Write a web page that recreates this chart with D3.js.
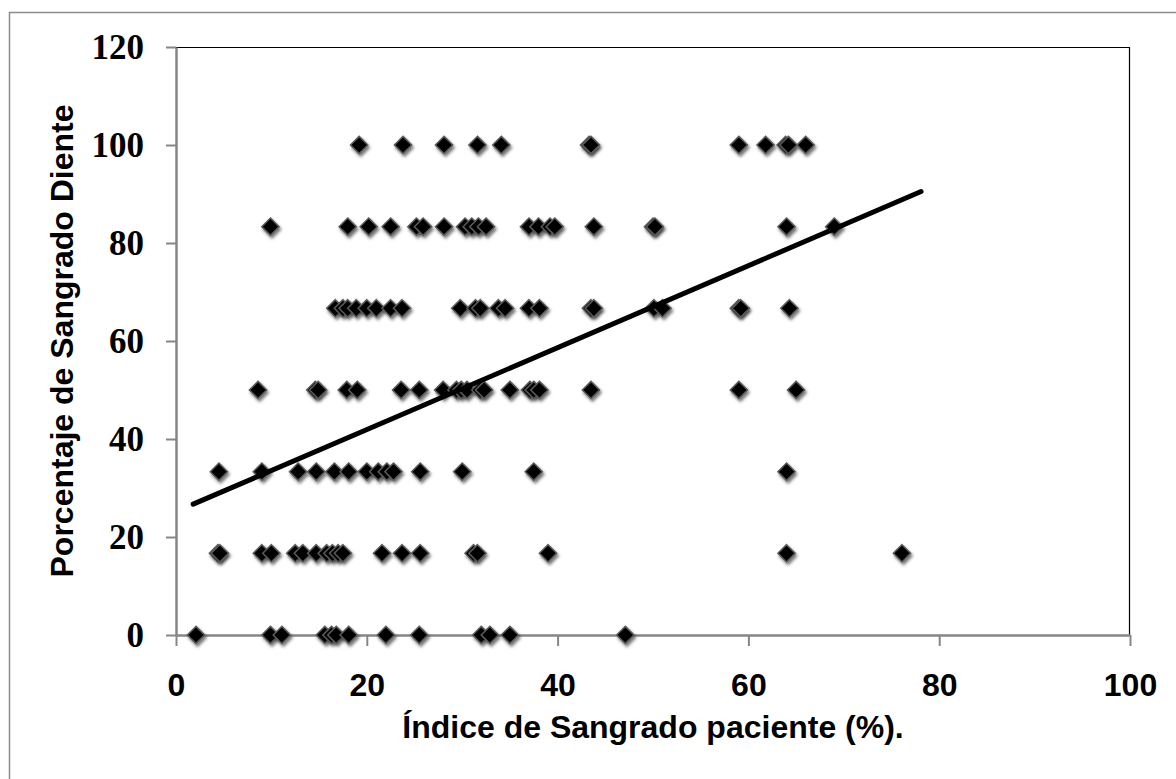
<!DOCTYPE html>
<html lang="es">
<head>
    <meta charset="UTF-8">
    <title>Índice de Sangrado</title>
    <script src="https://d3js.org/d3.v7.min.js"></script>
    <style>
        body {
            margin: 0;
            background-color: #fff;
        }

        .y-axis text {
            font-family: "Liberation Serif", "Times New Roman", serif;
            font-weight: bold;
            font-size: 35px;
            fill: #000;
        }

        .x-axis text {
            font-family: "Liberation Sans", Arial, sans-serif;
            font-weight: bold;
            font-size: 32px;
            fill: #000;
        }

        .axis-label {
            font-family: "Liberation Sans", Arial, sans-serif;
            font-weight: bold;
            font-size: 32px;
            fill: #000;
        }
    </style>
</head>
<body>
    <svg id="chart" width="1176" height="779"></svg>
    <script>
        // Porcentaje de sangrado por diente (niveles del eje Y)
        const yLevels = [0, 16.67, 33.33, 50, 66.67, 83.33, 100];

        // Índice de sangrado del paciente para cada nivel
        const xAt0 = [2.1, 9.9, 11.1, 15.6, 16.3, 16.8, 18.1, 22.0, 25.5, 32.0, 32.9, 35.0, 47.1];
        const xAt17 = [4.4, 4.6, 9.0, 10.0, 12.5, 13.3, 14.7, 15.8, 16.4, 17.0, 17.5, 21.6, 23.7, 25.6,
                       31.2, 31.6, 39.0, 64.0, 76.1];
        const xAt33 = [4.5, 9.0, 12.8, 14.7, 16.6, 18.1, 20.0, 21.2, 22.1, 22.8, 25.6, 30.0, 37.5, 64.0];
        const xAt50 = [8.6, 14.6, 14.9, 17.9, 19.0, 23.6, 25.5, 28.0, 29.4, 29.9, 30.5, 31.9, 32.3, 35.0,
                       37.1, 37.5, 38.1, 43.5, 59.0, 65.0];
        const xAt67 = [16.7, 17.5, 18.0, 18.9, 20.0, 21.0, 22.5, 23.7, 29.8, 31.4, 31.9, 33.8, 34.5, 37.0,
                       38.1, 43.5, 43.8, 50.1, 51.0, 59.0, 59.2, 64.3];
        const xAt83 = [9.9, 18.0, 20.2, 22.5, 25.2, 25.9, 28.1, 30.3, 31.0, 31.7, 32.5, 37.0, 38.0, 39.2,
                       39.7, 43.8, 50.0, 50.2, 64.0, 69.0];
        const xAt100 = [19.2, 23.8, 28.1, 31.6, 34.1, 43.3, 43.5, 59.0, 61.8, 63.9, 64.2, 66.0];

        // Línea de tendencia (extremos)
        const trendX = [1.8, 78.1];
        const trendY = [26.7, 90.5];

        const xTicks = [0, 20, 40, 60, 80, 100];
        const yTicks = [0, 20, 40, 60, 80, 100, 120];

        const xRows = [xAt0, xAt17, xAt33, xAt50, xAt67, xAt83, xAt100];
        const points = [];
        xRows.forEach((row, i) => row.forEach(x => points.push({ x: x, y: yLevels[i] })));

        // Plot area
        const margin = { top: 47, right: 46, bottom: 144, left: 176 },
              width = 1176 - margin.left - margin.right,
              height = 779 - margin.top - margin.bottom;

        const svg = d3.select("#chart");

        // Outer frame (only top and left edges are visible)
        svg.append("rect")
           .attr("x", 9.5)
           .attr("y", 12.5)
           .attr("width", 1200)
           .attr("height", 800)
           .attr("fill", "none")
           .attr("stroke", "#8c8c8c")
           .attr("stroke-width", 1.5);

        const defs = svg.append("defs");
        const shadow = defs.append("filter")
                           .attr("id", "shadow")
                           .attr("x", "-50%").attr("y", "-50%")
                           .attr("width", "200%").attr("height", "200%");
        shadow.append("feDropShadow")
              .attr("dx", 1.5)
              .attr("dy", 2.5)
              .attr("stdDeviation", 1.8)
              .attr("flood-color", "#000")
              .attr("flood-opacity", 0.55);

        const g = svg.append("g")
                     .attr("transform", `translate(${margin.left},${margin.top})`);

        const x = d3.scaleLinear().domain([0, 100]).range([0, width]);
        const y = d3.scaleLinear().domain([0, 120]).range([height, 0]);

        // Top and right plot border
        g.append("path")
         .attr("d", `M0,0.5H${width - 0.5}V${height}`)
         .attr("fill", "none")
         .attr("stroke", "#000")
         .attr("stroke-width", 1.2);

        // Axes
        const yAxis = g.append("g")
                       .attr("class", "y-axis")
                       .call(d3.axisLeft(y).tickValues(yTicks).tickSize(10).tickSizeOuter(0).tickPadding(22));

        const xAxis = g.append("g")
                       .attr("class", "x-axis")
                       .attr("transform", `translate(0,${height})`)
                       .call(d3.axisBottom(x).tickValues(xTicks).tickSize(11).tickSizeOuter(0).tickPadding(27));

        [yAxis, xAxis].forEach(ax => {
            ax.select(".domain").attr("stroke", "#868686").attr("stroke-width", 2.5);
            ax.selectAll(".tick line").attr("stroke", "#868686").attr("stroke-width", 2);
        });

        // Points
        g.selectAll(".pt")
         .data(points)
         .enter()
         .append("path")
         .attr("class", "pt")
         .attr("d", d3.symbol().type(d3.symbolDiamond2).size(190))
         .attr("transform", d => `translate(${x(d.x)},${y(d.y)})`)
         .attr("fill", "#000")
         .attr("stroke", "#5a5a5a")
         .attr("stroke-width", 1.5)
         .attr("filter", "url(#shadow)");

        // Trend line
        g.append("line")
         .attr("x1", x(trendX[0]))
         .attr("y1", y(trendY[0]))
         .attr("x2", x(trendX[1]))
         .attr("y2", y(trendY[1]))
         .attr("stroke", "#000")
         .attr("stroke-width", 5)
         .attr("stroke-linecap", "round");

        // Axis titles
        g.append("text")
         .attr("class", "axis-label")
         .attr("x", 477)
         .attr("y", height + 103)
         .attr("text-anchor", "middle")
         .text("Índice de Sangrado paciente (%).");

        g.append("text")
         .attr("class", "axis-label")
         .attr("transform", "rotate(-90)")
         .attr("x", -(341 - margin.top))
         .attr("y", 73 - margin.left)
         .attr("text-anchor", "middle")
         .text("Porcentaje de Sangrado Diente");
    </script>
</body>
</html>
